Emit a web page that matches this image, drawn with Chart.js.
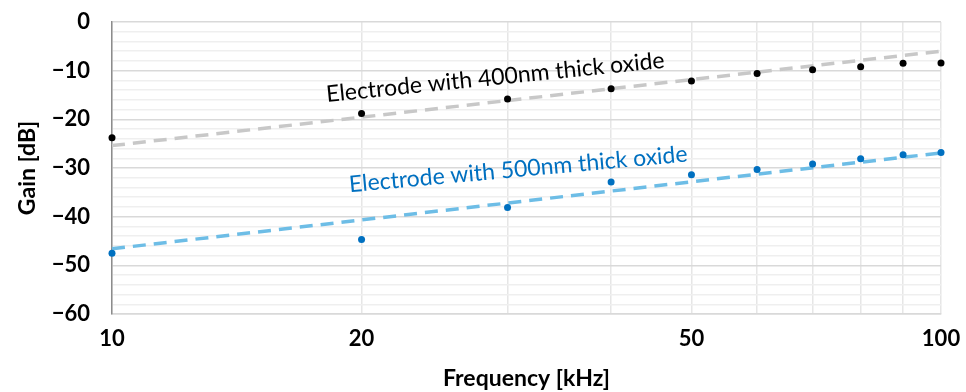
<!DOCTYPE html>
<html>
<head>
<meta charset="utf-8">
<script src="https://cdn.jsdelivr.net/npm/chart.js@4"></script>
<style>
  html, body { margin: 0; padding: 0; background: #fff; }
  #wrap { width: 966px; height: 392px; }
</style>
</head>
<body>
<div id="wrap"><canvas id="grafico"></canvas></div>
<script>
// frecuencias medidas (kHz)
const frecuencias = [10, 20, 30, 40, 50, 60, 70, 80, 90, 100];
// ganancia en dB por electrodo
const ganancia400 = [-23.8, -18.8, -15.8, -13.7, -12.1, -10.6, -9.8, -9.2, -8.5, -8.4];
const ganancia500 = [-47.5, -44.7, -38.1, -32.9, -31.4, -30.3, -29.2, -28.1, -27.3, -26.8];
// tendencia logarítmica: extremos en 10 y 100 kHz
const tendenciaX = [10, 100];
const tendencia400 = [-25.4, -6.0];
const tendencia500 = [-46.6, -26.9];
// etiquetas de ejes
const ticksX = [10, 20, 50, 100];
const rejillaX = [10, 20, 30, 40, 50, 60, 70, 80, 90, 100];
const etiquetas = ["Electrode with 400nm thick oxide", "Electrode with 500nm thick oxide"];

const fuente = "Lato, 'Open Sans', sans-serif";
const puntos = (xs, ys) => xs.map((x, i) => ({ x: x, y: ys[i] }));

// textos inclinados sobre las tendencias
const rotulos = {
  id: "rotulos",
  afterDatasetsDraw(chart) {
    const { ctx, scales } = chart;
    const conf = [
      { txt: etiquetas[0], x: 29.0, y: -11.4, ang: -5.8, color: "#000000" },
      { txt: etiquetas[1], x: 30.9, y: -30.3, ang: -5.2, color: "#0070C0" }
    ];
    conf.forEach(c => {
      ctx.save();
      ctx.translate(scales.x.getPixelForValue(c.x), scales.y.getPixelForValue(c.y));
      ctx.rotate(c.ang * Math.PI / 180);
      ctx.font = "23px " + fuente;
      ctx.fillStyle = c.color;
      ctx.textAlign = "center";
      ctx.textBaseline = "middle";
      ctx.fillText(c.txt, 0, 0);
      ctx.restore();
    });
  }
};

new Chart(document.getElementById("grafico"), {
  type: "scatter",
  data: {
    datasets: [
      {
        data: puntos(tendenciaX, tendencia400),
        showLine: true, borderColor: "#c8c8c8", borderWidth: 3.5,
        borderDash: [13, 8], pointRadius: 0, order: 3
      },
      {
        data: puntos(tendenciaX, tendencia500),
        showLine: true, borderColor: "#6dbde6", borderWidth: 3.5,
        borderDash: [13, 8], pointRadius: 0, order: 3
      },
      {
        data: puntos(frecuencias, ganancia400),
        backgroundColor: "#000000", borderColor: "#000000",
        pointRadius: 3.5, borderWidth: 0, order: 1
      },
      {
        data: puntos(frecuencias, ganancia500),
        backgroundColor: "#0070C0", borderColor: "#0070C0",
        pointRadius: 3.5, borderWidth: 0, order: 1
      }
    ].map(d => Object.assign(d, { clip: false }))
  },
  options: {
    responsive: true,
    maintainAspectRatio: false,
    animation: false,
    layout: { padding: { top: 22, right: 25, left: 0, bottom: 0 } },
    plugins: { legend: { display: false }, tooltip: { enabled: false } },
    scales: {
      x: {
        type: "logarithmic",
        min: 10, max: 100,
        afterBuildTicks: s => { s.ticks = rejillaX.map(v => ({ value: v })); },
        afterFit: s => { s.height = 78; s.paddingLeft = 0; s.paddingRight = 0; },
        ticks: {
          autoSkip: false, maxRotation: 0, padding: 12,
          color: "#000", font: { family: fuente, size: 22, weight: "bold" },
          callback: v => ticksX.includes(v) ? String(v) : ""
        },
        grid: { color: "#e6e6e6", lineWidth: 1.5, drawTicks: false },
        border: { color: "#d9d9d9", width: 1.5 },
        title: {
          display: true, text: "Frequency [kHz]", color: "#000",
          font: { family: fuente, size: 23, weight: "bold" },
          padding: { top: 0, bottom: 0 }
        }
      },
      y: {
        min: -60, max: 0,
        afterFit: s => { s.width = 112; s.paddingTop = 0; s.paddingBottom = 0; },
        ticks: {
          stepSize: 2, autoSkip: false, padding: 22,
          color: "#000", font: { family: fuente, size: 22, weight: "bold" },
          callback: v => v % 10 === 0 ? (v < 0 ? "\u2212" + Math.abs(v) : String(v)) : ""
        },
        grid: {
          drawTicks: false, lineWidth: 1.5,
          color: c => c.tick && c.tick.value % 10 === 0 ? "#d9d9d9" : "#efefef"
        },
        border: { color: "#8c8c8c", width: 1.5 },
        title: {
          display: true, text: "Gain [dB]", color: "#000",
          font: { family: fuente, size: 23, weight: "bold" },
          padding: { top: 14, bottom: 0 }
        }
      }
    }
  },
  plugins: [rotulos]
});
</script>
</body>
</html>
